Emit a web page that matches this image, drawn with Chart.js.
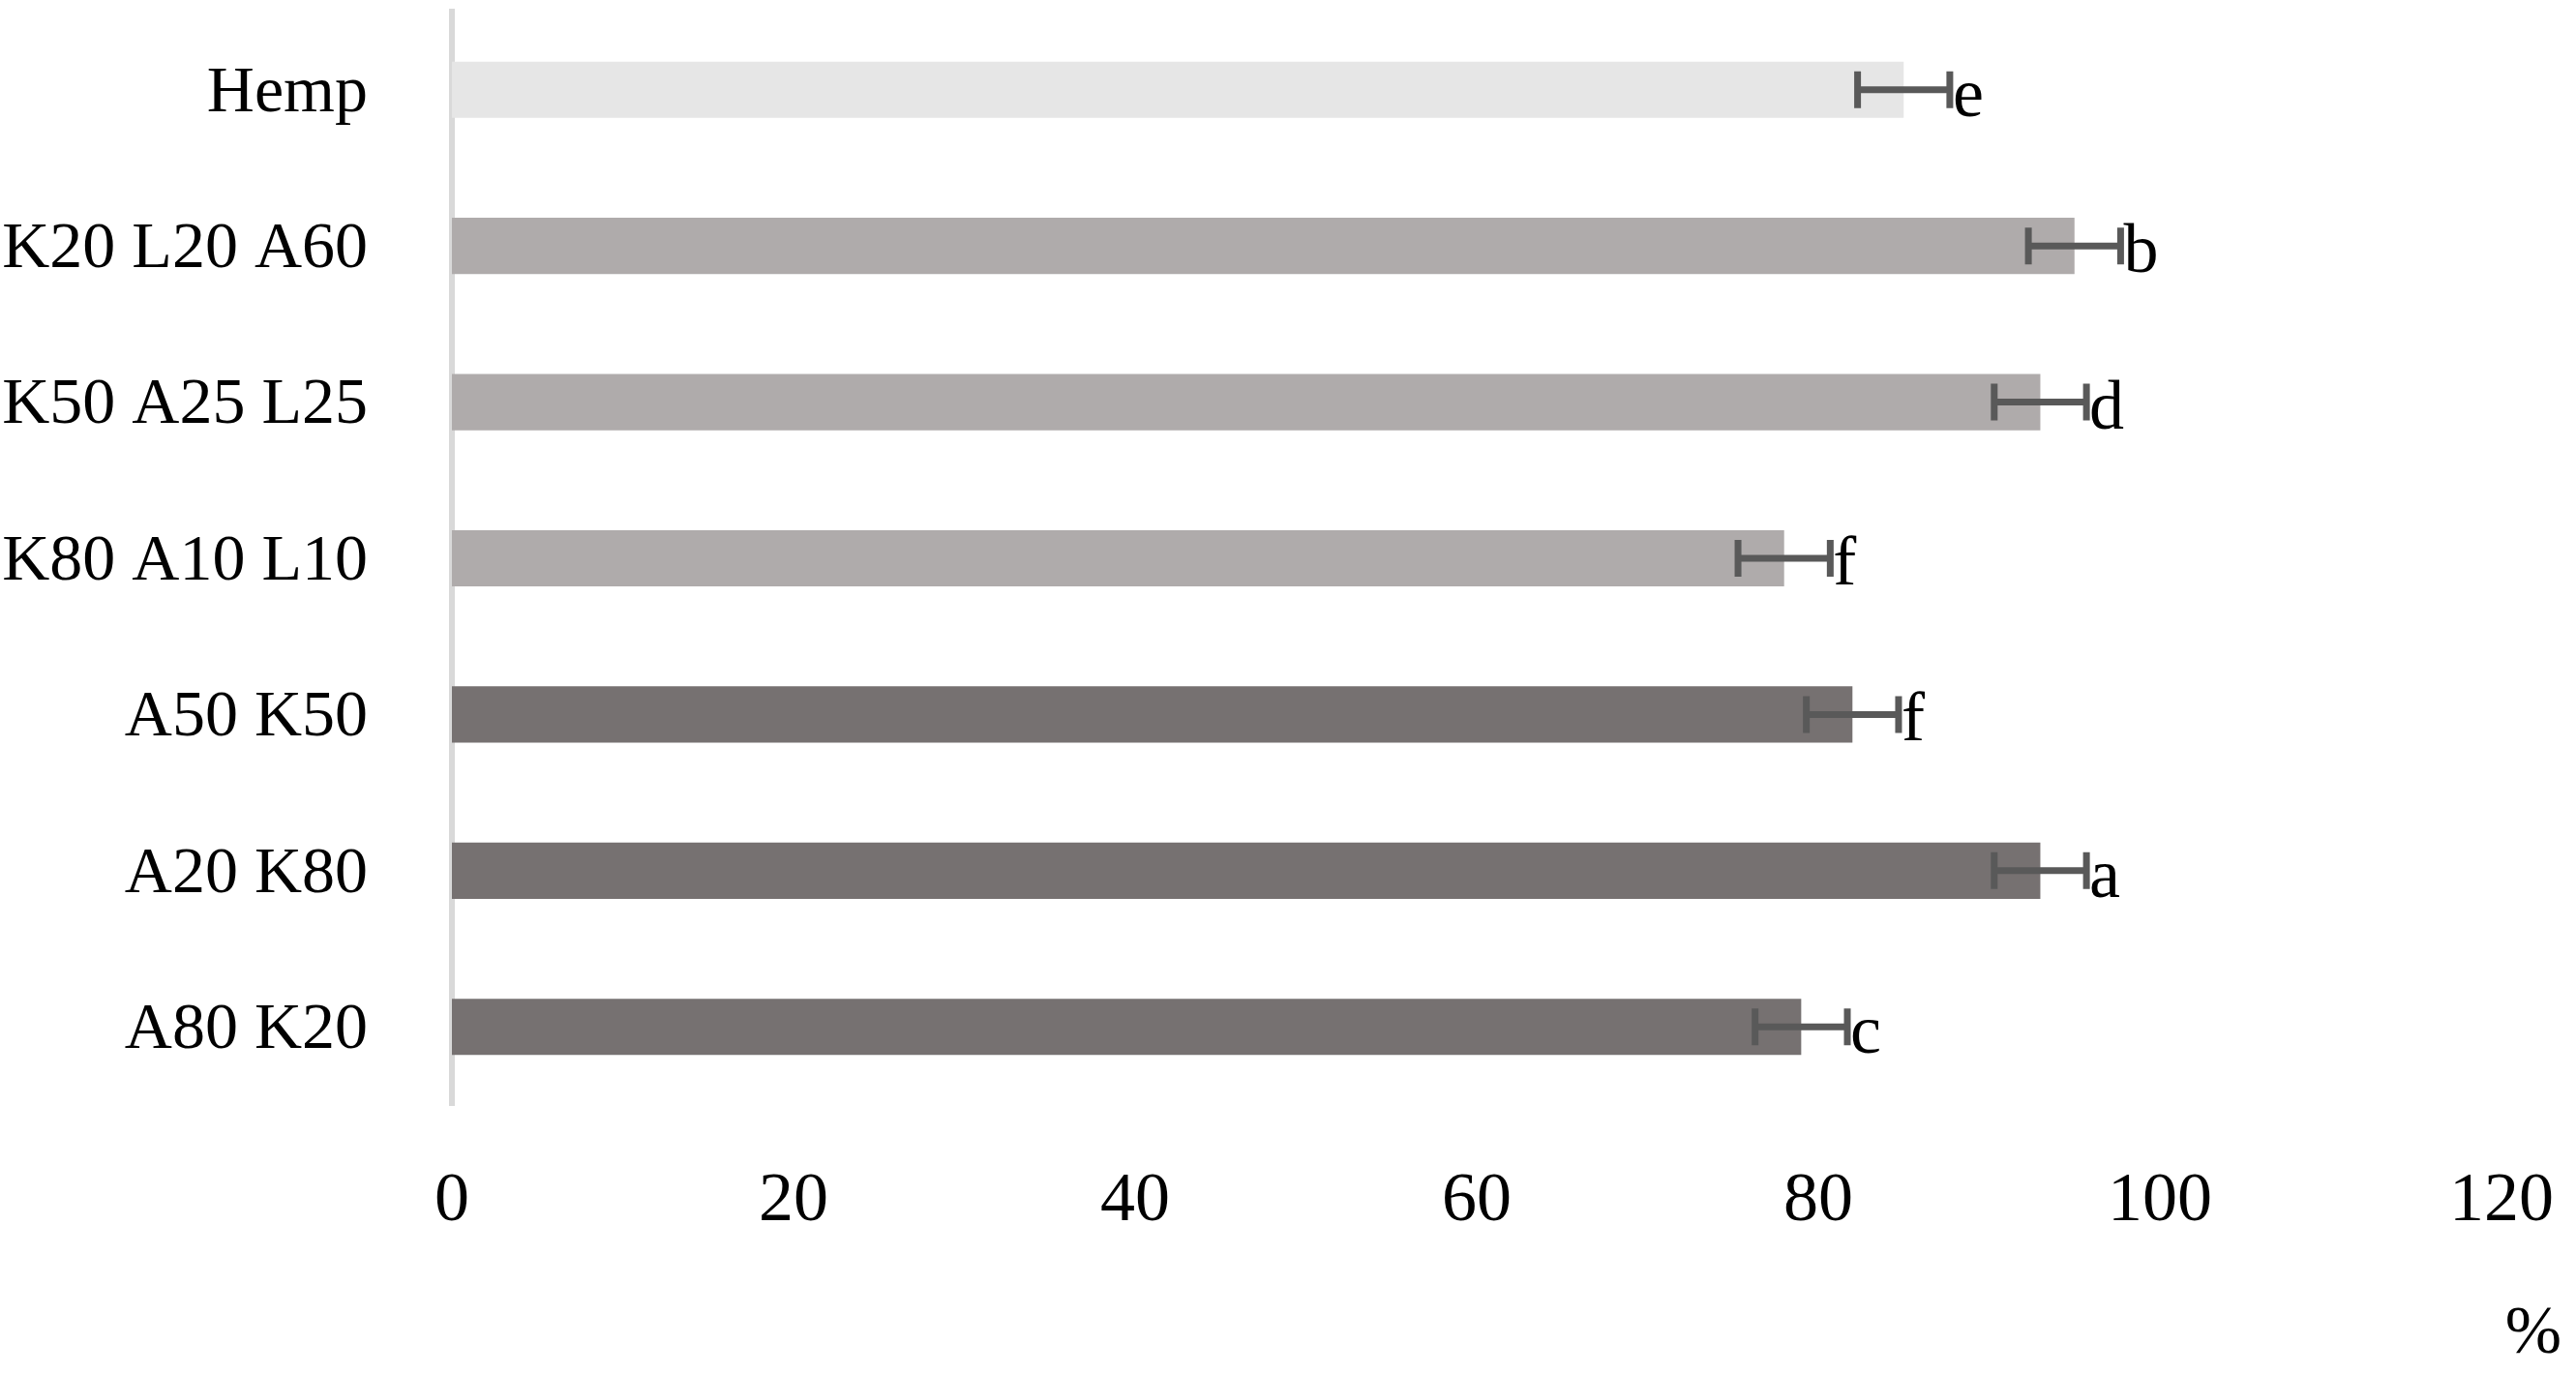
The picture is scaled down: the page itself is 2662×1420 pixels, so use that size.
<!DOCTYPE html>
<html>
<head>
<meta charset="utf-8">
<script src="https://cdn.jsdelivr.net/npm/chart.js@4.4.1/dist/chart.umd.min.js"></script>
<style>
  html, body { margin: 0; padding: 0; background: #fff; }
  #wrap { width: 2662px; height: 1420px; }
</style>
</head>
<body>
<div id="wrap"><canvas id="myChart1" width="2662" height="1420"></canvas></div>
<script>
// datos
const categories = ['Hemp', 'K20 L20 A60', 'K50 A25 L25', 'K80 A10 L10', 'A50 K50', 'A20 K80', 'A80 K20'];
const values = [85, 95, 93, 78, 82, 93, 79];
const errors = [2.7, 2.7, 2.7, 2.7, 2.7, 2.7, 2.7];
const letters = ['e', 'b', 'd', 'f', 'f', 'a', 'c'];
const xMin = 0;
const xMax = 120;
const xStep = 20;
const unitLabel = '%';

// colores por grupo (cañamo, mezclas con L, mezclas A/K)
const barColors = ['#e6e6e6', '#afabab', '#afabab', '#afabab', '#767171', '#767171', '#767171'];
const fontFamily = '"Liberation Serif", "Times New Roman", serif';

// barras de error + letras de significancia
const errorBarPlugin = {
    id: 'errorBars',
    afterDatasetsDraw(chart) {
        const { ctx, scales: { x, y } } = chart;
        ctx.save();
        ctx.strokeStyle = '#595959';
        ctx.lineWidth = 7;
        ctx.fillStyle = '#000';
        ctx.font = '72px ' + fontFamily;
        ctx.textAlign = 'left';
        ctx.textBaseline = 'alphabetic';
        values.forEach((v, i) => {
            const yc = y.getPixelForValue(i);
            const x1 = x.getPixelForValue(v - errors[i]);
            const x2 = x.getPixelForValue(v + errors[i]);
            ctx.beginPath();
            ctx.moveTo(x1, yc);
            ctx.lineTo(x2, yc);
            ctx.moveTo(x1, yc - 19);
            ctx.lineTo(x1, yc + 19);
            ctx.moveTo(x2, yc - 19);
            ctx.lineTo(x2, yc + 19);
            ctx.stroke();
            ctx.fillText(letters[i], x2 + 3, yc + 27);
        });
        // etiqueta de unidad abajo a la derecha
        ctx.font = '70px ' + fontFamily;
        ctx.textAlign = 'center';
        ctx.textBaseline = 'middle';
        ctx.fillText(unitLabel, x.right + 33, x.top + 238);
        ctx.restore();
    }
};

document.addEventListener('DOMContentLoaded', function () {
    const ctx1 = document.getElementById('myChart1').getContext('2d');

    new Chart(ctx1, {
        type: 'bar',
        data: {
            labels: categories,
            datasets: [{
                data: values,
                backgroundColor: barColors,
                borderWidth: 0,
                barPercentage: 0.36,
                categoryPercentage: 1
            }]
        },
        options: {
            indexAxis: 'y',
            responsive: false,
            animation: false,
            devicePixelRatio: 1,
            layout: { padding: { top: 12, right: 77, bottom: 0, left: 0 } },
            plugins: {
                legend: { display: false },
                tooltip: { enabled: false }
            },
            scales: {
                x: {
                    min: xMin,
                    max: xMax,
                    grid: { display: false, drawTicks: false },
                    border: { display: false },
                    ticks: {
                        stepSize: xStep,
                        color: '#000',
                        padding: 57,
                        font: { family: fontFamily, size: 72 }
                    },
                    afterFit: function (scale) {
                        scale.height = 278;
                        scale.paddingLeft = 0;
                        scale.paddingRight = 0;
                    }
                },
                y: {
                    z: 1,
                    grid: { display: false, drawTicks: false },
                    border: { display: true, color: '#d9d9d9', width: 6 },
                    ticks: {
                        color: '#000',
                        padding: 87,
                        labelOffset: 4,
                        font: { family: fontFamily, size: 68 }
                    },
                    afterFit: function (scale) {
                        scale.width = 467;
                        scale.paddingTop = 0;
                        scale.paddingBottom = 0;
                    }
                }
            }
        },
        plugins: [errorBarPlugin]
    });
});
</script>
</body>
</html>
